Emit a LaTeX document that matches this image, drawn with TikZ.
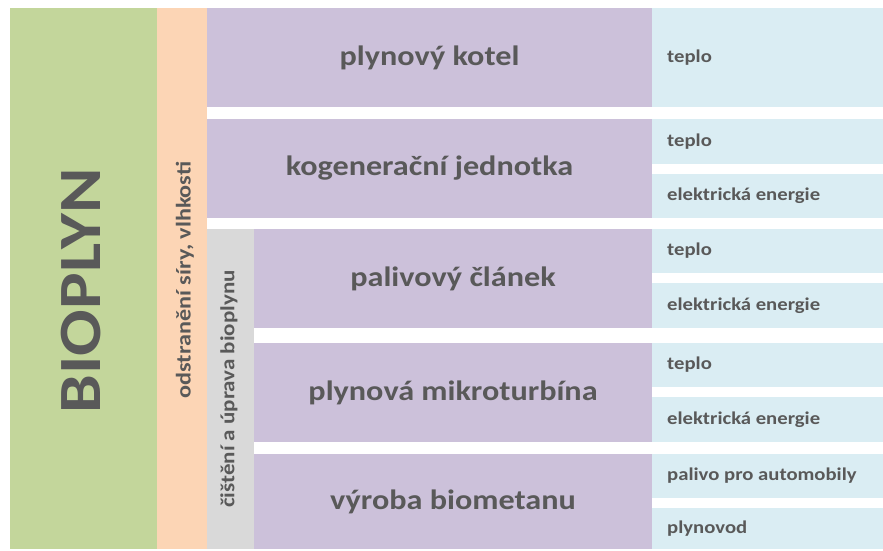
\documentclass[tikz,border=0pt]{standalone}
\usepackage{fontspec}
\setmainfont{Carlito}[FakeStretch=1.15]
\definecolor{cgreen}{HTML}{C3D69B}
\definecolor{corange}{HTML}{FCD5B5}
\definecolor{cpurple}{HTML}{CCC1DA}
\definecolor{cblue}{HTML}{DAEDF3}
\definecolor{cgray}{HTML}{D9D9D9}
\definecolor{ctext}{HTML}{595959}
\tikzset{
  cell/.style={inner sep=0pt, outer sep=0pt, anchor=north west, draw=none},
  bigtxt/.style={text=ctext, font=\fontsize{28}{30}\selectfont\bfseries},
  smalltxt/.style={text=ctext, font=\fontsize{18}{20}\selectfont\bfseries, anchor=west, inner sep=0pt},
  sidetxt/.style={text=ctext, font=\fontsize{21}{23}\selectfont\bfseries, rotate=90, inner sep=0pt},
  sidetxtb/.style={text=ctext, font=\fontsize{20}{22}\selectfont\bfseries, rotate=90, inner sep=0pt},
  titletxt/.style={text=ctext, font=\fontsize{60}{62}\selectfont\bfseries, rotate=90, inner sep=0pt},
}
\newcommand\cellat[6]{\node[cell, fill=#6, minimum width={(#4-#2)*1pt}, minimum height={(#5-#3)*1pt}] (#1) at (#2,#3) {};}
\begin{document}
\begin{tikzpicture}[x=1pt,y=-1pt]
\useasboundingbox (0,0) rectangle (883,550);
% left columns
\cellat{green}{10}{8}{157}{549}{cgreen}
\cellat{orange}{157}{8}{207}{549}{corange}
\cellat{gray}{207}{229}{254}{549}{cgray}
\node[titletxt] (tbio) at (81,291) {BIOPLYN};
\node[sidetxt] (tods) at (185,280) {odstranění síry, vlhkosti};
\node[sidetxtb] (tcis) at (229,389) {čištění a úprava bioplynu};
% purple
\cellat{p1}{207}{8}{652}{107}{cpurple}
\cellat{p2}{207}{119}{652}{218}{cpurple}
\cellat{p3}{254}{229}{652}{328}{cpurple}
\cellat{p4}{254}{343}{652}{442}{cpurple}
\cellat{p5}{254}{454}{652}{549}{cpurple}
\node[bigtxt] (tp1) at (p1.center) {plynový kotel};
\node[bigtxt] (tp2) at (p2.center) {kogenerační jednotka};
\node[bigtxt] (tp3) at (p3.center) {palivový článek};
\node[bigtxt] (tp4) at (p4.center) {plynová mikroturbína};
\node[bigtxt] (tp5) at (p5.center) {výroba biometanu};
% blue
\cellat{b1}{652}{8}{883}{107}{cblue}
\cellat{b2a}{652}{119}{883}{164}{cblue}
\cellat{b2b}{652}{174}{883}{218}{cblue}
\cellat{b3a}{652}{229}{883}{273}{cblue}
\cellat{b3b}{652}{283}{883}{328}{cblue}
\cellat{b4a}{652}{343}{883}{387}{cblue}
\cellat{b4b}{652}{397}{883}{442}{cblue}
\cellat{b5a}{652}{454}{883}{498}{cblue}
\cellat{b5b}{652}{508}{883}{549}{cblue}
\node[smalltxt] (tb1) at ([xshift=15pt]b1.west) {teplo};
\node[smalltxt] (tb2a) at ([xshift=15pt]b2a.west) {teplo};
\node[smalltxt] (tb2b) at ([xshift=15pt]b2b.west) {elektrická energie};
\node[smalltxt] (tb3a) at ([xshift=15pt]b3a.west) {teplo};
\node[smalltxt] (tb3b) at ([xshift=15pt]b3b.west) {elektrická energie};
\node[smalltxt] (tb4a) at ([xshift=15pt]b4a.west) {teplo};
\node[smalltxt] (tb4b) at ([xshift=15pt]b4b.west) {elektrická energie};
\node[smalltxt] (tb5a) at ([xshift=15pt]b5a.west) {palivo pro automobily};
\node[smalltxt] (tb5b) at ([xshift=15pt]b5b.west) {plynovod};
\end{tikzpicture}
\end{document}
